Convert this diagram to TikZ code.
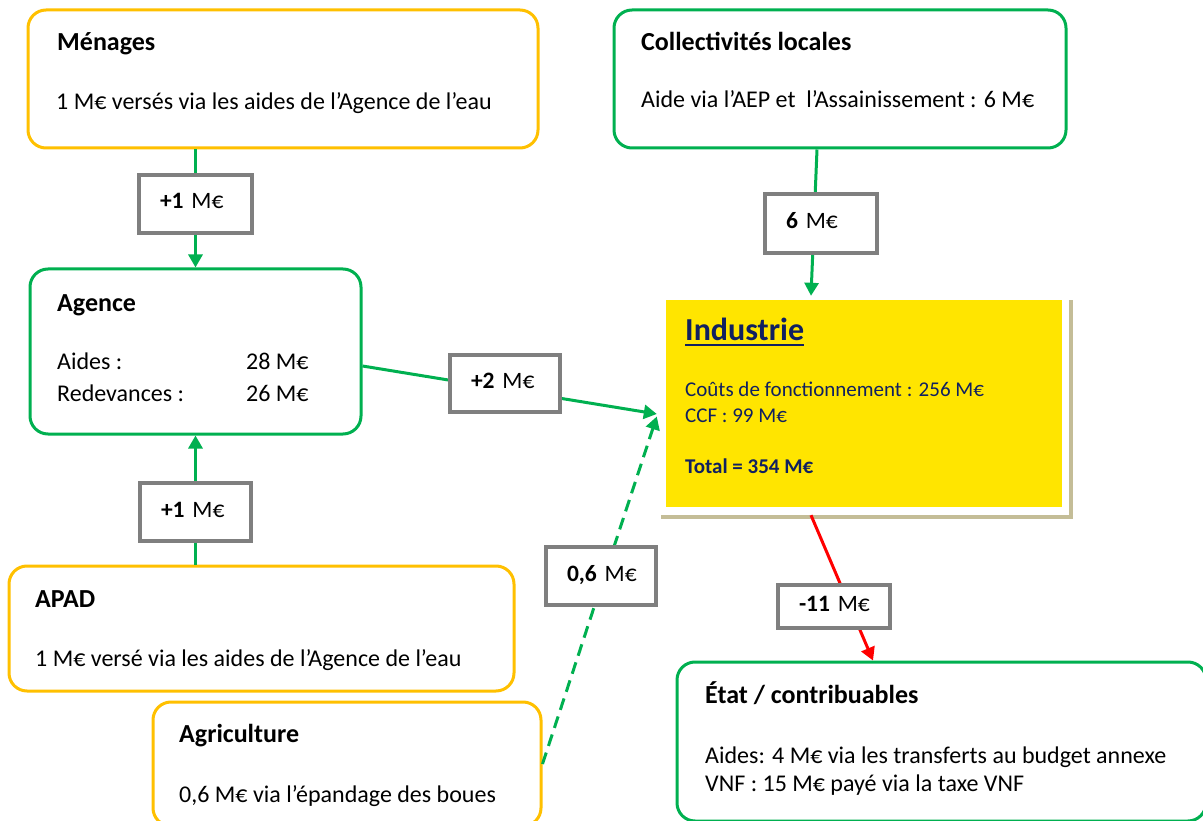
\documentclass[tikz,border=0pt]{standalone}
\usepackage{fontspec}
\setmainfont{Carlito}
\usetikzlibrary{arrows.meta,shadows}
\definecolor{cOrange}{HTML}{FFC000}
\definecolor{cGreen}{HTML}{00B050}
\definecolor{cRed}{HTML}{FF0000}
\definecolor{cYellow}{HTML}{FFE500}
\definecolor{cTan}{HTML}{C4BD97}
\definecolor{cGray}{HTML}{7F7F7F}
\definecolor{cNavy}{HTML}{102060}
\newcommand\fsBodyX{\fontsize{24}{29}\selectfont}
\newcommand\fsTitleX{\fontsize{26}{31}\selectfont}
\newcommand\fsLabX{\fontsize{23.5}{28}\selectfont}
\newcommand\fsSmallX{\fontsize{21}{25}\selectfont}
\newcommand\fsBigX{\fontsize{32}{38}\selectfont}
\begin{document}
\begin{tikzpicture}[x=1pt,y=-1pt,
  box/.style={draw, rectangle, rounded corners=18pt, line width=3pt, fill=white, inner sep=0pt},
  obox/.style={box, draw=cOrange},
  gbox/.style={box, draw=cGreen},
  lab/.style={draw=cGray, line width=4pt, fill=white, rectangle, inner xsep=21pt, inner ysep=0pt,
              align=left, font=\fsLabX, text height=15pt, text depth=5pt},
  txt/.style={inner sep=0pt, anchor=base west},
  ttl/.style={txt, font=\fsTitleX\bfseries},
  bdy/.style={txt, font=\fsBodyX},
  itx/.style={txt, font=\fsSmallX, text=cNavy},
  tip/.style={-{Triangle[length=13pt,width=14pt]}},
  flow/.style={line width=3pt, draw=cGreen, tip},
  dflow/.style={flow, dash pattern=on 12pt off 7pt},
  rflow/.style={line width=3pt, draw=cRed, tip}
]
\useasboundingbox (0,0) rectangle (1203,821);
\clip (0,0) rectangle (1203,821);

% boxes
\node[obox, minimum width=510pt, minimum height=138pt] (menages) at (283,79) {};
\node[gbox, minimum width=452pt, minimum height=138pt] (collectivites) at (840,79) {};
\node[gbox, minimum width=331pt, minimum height=165pt] (agence) at (195.5,351.5) {};
\node[obox, minimum width=505pt, minimum height=125pt] (apad) at (261.5,628.5) {};
\node[obox, minimum width=388pt, minimum height=124pt] (agriculture) at (347,764) {};
\node[gbox, minimum width=529pt, minimum height=159pt] (etat) at (941.5,741.5) {};
\node[rectangle, fill=white, inner sep=0pt, minimum width=412pt, minimum height=219pt,
      drop shadow={shadow xshift=4pt, shadow yshift=-4pt, fill=cTan, opacity=1}] (indFrame) at (863,405.5) {};
\node[rectangle, fill=cYellow, inner sep=0pt, minimum width=396pt, minimum height=207pt] (industrie) at (864,403.5) {};

% texts
\node[ttl] (tMen) at (57,51) {Ménages};
\node[bdy] (bMen) at (56,110) {1 M€ versés via les aides de l’Agence de l’eau};
\node[ttl] (tCol) at (641,51) {Collectivités locales};
\node[bdy] (bCol) at (641,108) {Aide via l’AEP et\ \ l’Assainissement : 6 M€};
\node[ttl] (tAg) at (57,312) {Agence};
\node[bdy] (bAg1) at (57,370) {Aides :};
\node[bdy] (bAg2) at (246,370) {28 M€};
\node[bdy] (bAg3) at (57,401) {Redevances :};
\node[bdy] (bAg4) at (246,401) {26 M€};
\node[ttl] (tApad) at (35,607) {APAD};
\node[bdy] (bApad) at (35,666) {1 M€ versé via les aides de l’Agence de l’eau};
\node[ttl] (tAgr) at (179,742) {Agriculture};
\node[bdy] (bAgr) at (179,802) {0,6 M€ via l’épandage des boues};
\node[ttl] (tEtat) at (705,703) {État / contribuables};
\node[bdy] (bEtat1) at (705,763) {Aides: 4 M€ via les transferts au budget annexe};
\node[bdy] (bEtat2) at (705,791) {VNF : 15 M€ payé via la taxe VNF};
\node[txt, font=\fsBigX\bfseries, text=cNavy] (tInd) at (685,341) {Industrie};
\draw[cNavy, line width=2.5pt] ([yshift=-4pt]tInd.base west) -- ([yshift=-4pt]tInd.base east);
\node[itx] (bInd1) at (685,396) {Coûts de fonctionnement : 256 M€};
\node[itx] (bInd2) at (685,422) {CCF : 99 M€};
\node[itx, font=\fsSmallX\bfseries] (bInd3) at (685,473) {Total = 354 M€};

% connectors
\draw[flow] (menages.south -| agence.north) -- (agence.north);
\draw[flow] (apad.north -| agence.south) -- (agence.south);
\draw[flow] ([xshift=-23pt]collectivites.south) -- ([xshift=-52pt]indFrame.north);
\draw[flow] ([yshift=-14.5pt]agence.east) -- ([yshift=-8.5pt]indFrame.west);
\draw[dflow] (agriculture.east) -- ([yshift=-11pt]indFrame.west);
\draw[rflow] ([xshift=-52pt]indFrame.south) -- ([xshift=-68.5pt]etat.north);

% labels
\node[lab, minimum height=58.6pt, text width=71pt] (l1) at (195.5,204) {\mbox{\textbf{+1} M€}};
\node[lab, minimum height=58pt, text width=69pt] (l2) at (195.5,512) {\mbox{\textbf{+1} M€}};
\node[lab, minimum height=57pt, text width=68pt] (l3) at (505,383.5) {\mbox{\textbf{+2} M€}};
\node[lab, minimum height=59pt, text width=70pt] (l4) at (821,223.5) {\mbox{\textbf{6} M€}};
\node[lab, minimum height=58pt, text width=68pt] (l5) at (601,576) {\mbox{\textbf{0,6} M€}};
\node[lab, minimum height=43pt, text width=70pt] (l6) at (834,606) {\mbox{\textbf{-11} M€}};
\end{tikzpicture}
\end{document}
